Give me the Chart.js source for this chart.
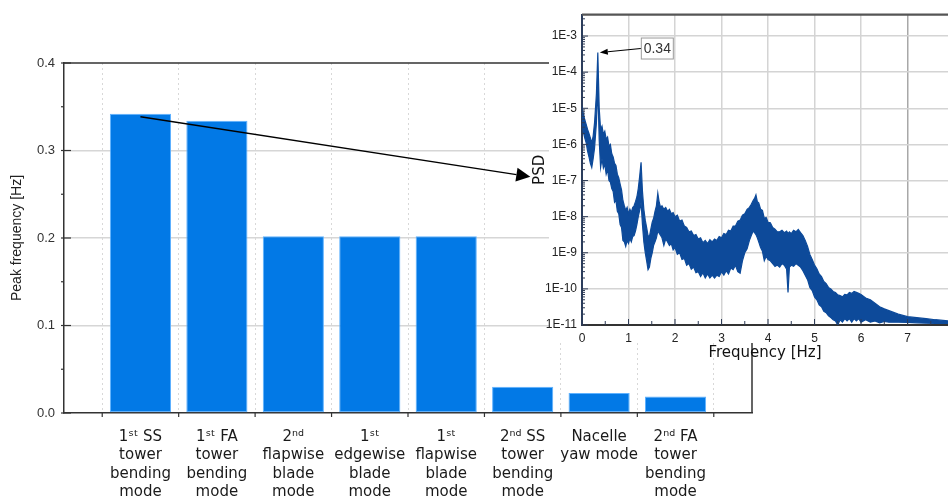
<!DOCTYPE html>
<html>
<head>
<meta charset="utf-8">
<script src="https://cdn.jsdelivr.net/npm/chart.js@4.4.1/dist/chart.umd.min.js"></script>
<style>
  html, body { margin: 0; padding: 0; background: #fff; overflow: hidden; width: 948px; height: 499px; }
  #wrap { position: relative; width: 948px; height: 499px; }
  canvas { position: absolute; left: 0; top: 0; }
</style>
</head>
<body>
<div id="wrap">
  <canvas id="bars" width="948" height="499"></canvas>
  <canvas id="psd" width="948" height="499"></canvas>
</div>
<script>
// ---- Peak frequency of each structural mode ----
const modeLabels = [
  ['1\u02E2\u1D57 SS', 'tower', 'bending', 'mode'],
  ['1\u02E2\u1D57 FA', 'tower', 'bending', 'mode'],
  ['2\u207F\u1D48', 'flapwise', 'blade', 'mode'],
  ['1\u02E2\u1D57', 'edgewise', 'blade', 'mode'],
  ['1\u02E2\u1D57', 'flapwise', 'blade', 'mode'],
  ['2\u207F\u1D48 SS', 'tower', 'bending', 'mode'],
  ['Nacelle', 'yaw mode'],
  ['2\u207F\u1D48 FA', 'tower', 'bending', 'mode']
];
const peakFrequency = [0.342, 0.334, 0.202, 0.202, 0.202, 0.030, 0.023, 0.019];
const peakAxisTicks = [0.0, 0.05, 0.1, 0.15, 0.2, 0.25, 0.3, 0.35, 0.4];

// ---- Power spectral density of the tower response: upper and lower edge of the noisy trace ----
const psdFrequency = [
  0.00, 0.03, 0.06, 0.09, 0.12, 0.15, 0.18, 0.21, 0.24, 0.27,
  0.31, 0.34, 0.37, 0.40, 0.43, 0.46, 0.49, 0.52, 0.55, 0.58,
  0.61, 0.64, 0.67, 0.70, 0.73, 0.76, 0.79, 0.82, 0.85, 0.88,
  0.91, 0.94, 0.97, 1.00, 1.03, 1.06, 1.09, 1.12, 1.15, 1.18,
  1.21, 1.24, 1.27, 1.30, 1.33, 1.36, 1.39, 1.42, 1.45, 1.48,
  1.51, 1.54, 1.57, 1.60, 1.63, 1.66, 1.69, 1.72, 1.76, 1.80,
  1.84, 1.88, 1.92, 1.96, 2.00, 2.05, 2.10, 2.15, 2.20, 2.25,
  2.30, 2.35, 2.40, 2.45, 2.50, 2.55, 2.60, 2.65, 2.70, 2.75,
  2.80, 2.85, 2.90, 2.95, 3.00, 3.05, 3.10, 3.15, 3.20, 3.25,
  3.30, 3.35, 3.40, 3.45, 3.50, 3.55, 3.60, 3.64, 3.68, 3.71,
  3.74, 3.77, 3.80, 3.84, 3.88, 3.92, 3.96, 4.00, 4.05, 4.10,
  4.15, 4.20, 4.25, 4.30, 4.35, 4.40, 4.43, 4.46, 4.50, 4.55,
  4.60, 4.65, 4.70, 4.75, 4.80, 4.85, 4.90, 4.95, 5.00, 5.05,
  5.10, 5.15, 5.20, 5.25, 5.30, 5.35, 5.40, 5.45, 5.50, 5.55,
  5.60, 5.65, 5.70, 5.75, 5.80, 5.85, 5.90, 5.95, 6.00, 6.10,
  6.20, 6.30, 6.40, 6.50, 6.60, 6.80, 7.00, 7.20, 7.40, 7.60,
  7.87
];
const psdUpper = [
  1.1e-5, 7.0e-6, 4.8e-6, 3.6e-6, 2.6e-6, 2.0e-6, 1.5e-6, 1.1e-6, 1.7e-6, 4.0e-6,
  2.5e-5, 3.5e-4, 1.0e-5, 2.6e-6, 3.2e-6, 1.9e-6, 2.3e-6, 1.4e-6, 1.6e-6, 9.0e-7,
  1.0e-6, 5.5e-7, 4.5e-7, 3.0e-7, 2.6e-7, 1.5e-7, 1.2e-7, 8.0e-8, 5.5e-8, 2.8e-8,
  2.0e-8, 1.5e-8, 1.8e-8, 1.2e-8, 1.6e-8, 1.3e-8, 1.8e-8, 2.0e-8, 2.6e-8, 3.5e-8,
  6.0e-8, 1.3e-7, 3.2e-7, 5.0e-8, 1.6e-8, 8.0e-9, 5.0e-9, 3.0e-9, 2.8e-9, 4.5e-9,
  7.0e-9, 9.0e-9, 1.4e-8, 2.0e-8, 4.5e-8, 2.5e-8, 1.8e-8, 2.0e-8, 1.6e-8, 1.8e-8,
  1.4e-8, 1.6e-8, 1.2e-8, 1.3e-8, 1.0e-8, 1.1e-8, 7.5e-9, 8.0e-9, 5.5e-9, 5.0e-9,
  3.8e-9, 4.0e-9, 3.0e-9, 3.2e-9, 2.4e-9, 2.6e-9, 1.9e-9, 2.2e-9, 1.8e-9, 2.3e-9,
  2.0e-9, 2.4e-9, 2.2e-9, 2.8e-9, 2.6e-9, 3.4e-9, 3.2e-9, 4.2e-9, 4.0e-9, 5.5e-9,
  5.5e-9, 7.5e-9, 8.0e-9, 1.1e-8, 1.2e-8, 1.6e-8, 1.8e-8, 2.2e-8, 2.8e-8, 3.2e-8,
  4.0e-8, 2.6e-8, 2.4e-8, 1.6e-8, 1.5e-8, 9.0e-9, 9.5e-9, 7.0e-9, 6.8e-9, 5.0e-9,
  4.5e-9, 3.8e-9, 3.8e-9, 4.2e-9, 3.6e-9, 4.0e-9, 3.4e-9, 3.8e-9, 3.4e-9, 4.2e-9,
  3.8e-9, 4.4e-9, 3.6e-9, 3.0e-9, 2.2e-9, 1.5e-9, 9.0e-10, 6.5e-10, 4.6e-10, 3.6e-10,
  2.6e-10, 2.2e-10, 1.6e-10, 1.4e-10, 1.1e-10, 1.0e-10, 8.5e-11, 8.0e-11, 6.8e-11, 6.5e-11,
  6.0e-11, 7.0e-11, 6.8e-11, 8.0e-11, 7.5e-11, 8.5e-11, 8.0e-11, 7.5e-11, 7.0e-11, 5.6e-11,
  5.0e-11, 4.0e-11, 3.2e-11, 2.8e-11, 2.5e-11, 2.0e-11, 1.7e-11, 1.6e-11, 1.5e-11, 1.4e-11,
  1.3e-11
];
const psdLower = [
  4.0e-6, 2.2e-6, 1.5e-6, 1.1e-6, 6.5e-7, 4.5e-7, 3.0e-7, 2.3e-7, 4.0e-7, 8.0e-7,
  4.0e-6, 4.0e-5, 1.3e-6, 2.3e-7, 4.0e-7, 2.2e-7, 2.8e-7, 1.5e-7, 2.0e-7, 1.0e-7,
  9.0e-8, 6.0e-8, 5.0e-8, 2.5e-8, 2.8e-8, 1.4e-8, 1.2e-8, 6.0e-9, 5.0e-9, 2.2e-9,
  2.0e-9, 1.5e-9, 2.2e-9, 1.8e-9, 2.5e-9, 2.0e-9, 2.8e-9, 3.0e-9, 4.0e-9, 6.0e-9,
  1.0e-8, 1.5e-8, 2.5e-8, 6.0e-9, 2.0e-9, 1.0e-9, 6.0e-10, 3.4e-10, 4.0e-10, 7.0e-10,
  1.0e-9, 1.6e-9, 2.0e-9, 2.6e-9, 4.0e-9, 3.5e-9, 3.0e-9, 2.6e-9, 1.6e-9, 2.4e-9,
  2.0e-9, 1.6e-9, 1.8e-9, 1.2e-9, 1.4e-9, 9.0e-10, 1.0e-9, 6.5e-10, 7.0e-10, 4.5e-10,
  5.0e-10, 3.5e-10, 4.0e-10, 2.8e-10, 3.0e-10, 2.2e-10, 2.8e-10, 2.0e-10, 2.6e-10, 2.0e-10,
  2.4e-10, 2.0e-10, 2.4e-10, 2.2e-10, 3.0e-10, 2.4e-10, 3.2e-10, 2.6e-10, 3.8e-10, 3.4e-10,
  4.5e-10, 3.0e-10, 2.7e-10, 6.0e-10, 1.0e-9, 1.3e-9, 2.2e-9, 3.0e-9, 4.0e-9, 3.6e-9,
  3.2e-9, 2.6e-9, 2.0e-9, 1.4e-9, 1.1e-9, 6.0e-10, 8.0e-10, 6.5e-10, 6.0e-10, 5.0e-10,
  4.2e-10, 4.6e-10, 4.0e-10, 5.0e-10, 4.5e-10, 3.5e-10, 8.0e-11, 4.0e-10, 4.5e-10, 4.2e-10,
  5.0e-10, 4.5e-10, 4.0e-10, 3.2e-10, 2.4e-10, 1.8e-10, 1.1e-10, 9.0e-11, 6.0e-11, 5.0e-11,
  3.6e-11, 3.2e-11, 2.4e-11, 2.2e-11, 1.8e-11, 1.6e-11, 1.4e-11, 1.3e-11, 1.0e-11, 1.4e-11,
  1.2e-11, 1.5e-11, 1.3e-11, 1.5e-11, 1.2e-11, 1.5e-11, 1.3e-11, 1.5e-11, 1.2e-11, 1.4e-11,
  1.2e-11, 1.3e-11, 1.15e-11, 1.25e-11, 1.2e-11, 1.2e-11, 1.18e-11, 1.15e-11, 1.12e-11, 1.1e-11,
  1.1e-11
];
const psdDecadeLabels = ['1E-11', '1E-10', '1E-9', '1E-8', '1E-7', '1E-6', '1E-5', '1E-4', '1E-3'];
const frequencyTickLabels = ['0', '1', '2', '3', '4', '5', '6', '7'];
const peakLabel = '0.34';

const BLUE = '#0279e6';
const PSD_BLUE = '#0d4a9a';

function arrow(ctx, x1, y1, x2, y2, headLen, headHalf, width) {
  const a = Math.atan2(y2 - y1, x2 - x1);
  const bx = x2 - headLen * Math.cos(a), by = y2 - headLen * Math.sin(a);
  ctx.save();
  ctx.strokeStyle = '#000'; ctx.fillStyle = '#000'; ctx.lineWidth = width;
  ctx.beginPath(); ctx.moveTo(x1, y1); ctx.lineTo(bx, by); ctx.stroke();
  ctx.beginPath();
  ctx.moveTo(x2, y2);
  ctx.lineTo(bx + headHalf * Math.sin(a), by - headHalf * Math.cos(a));
  ctx.lineTo(bx - headHalf * Math.sin(a), by + headHalf * Math.cos(a));
  ctx.closePath(); ctx.fill();
  ctx.restore();
}

const isMultiple = (v, step) => Math.abs(v / step - Math.round(v / step)) < 1e-6;

// ---- Bar chart decorations: frame, tick marks and the pointer arrow ----
const barDecor = {
  id: 'barDecor',
  afterDraw(chart) {
    const { ctx, chartArea: a, scales: { x, y } } = chart;
    ctx.save();
    ctx.strokeStyle = '#333'; ctx.lineWidth = 1.5;
    ctx.beginPath();
    ctx.moveTo(a.left, a.top); ctx.lineTo(a.right, a.top); ctx.lineTo(a.right, a.bottom);
    ctx.stroke();
    ctx.lineWidth = 1.2;
    y.ticks.forEach(t => {
      const py = y.getPixelForValue(t.value);
      const major = isMultiple(t.value, 0.1);
      ctx.beginPath();
      ctx.moveTo(a.left - 3, py); ctx.lineTo(a.left + (major ? 7 : 0), py);
      ctx.stroke();
    });
    for (let i = 0; i <= modeLabels.length; i++) {
      const px = x.getPixelForValue(i - 0.5);
      ctx.beginPath(); ctx.moveTo(px, a.bottom); ctx.lineTo(px, a.bottom + 4); ctx.stroke();
    }
    ctx.restore();
    // pointer from the first bar to the spectrum
    const sx = x.getPixelForValue(0), sy = y.getPixelForValue(peakFrequency[0]) + 3;
    const ex = x.getPixelForValue(5.1), ey = y.getPixelForValue(0.27);
    arrow(ctx, sx, sy, ex, ey, 14, 7, 1.4);
  }
};

new Chart(document.getElementById('bars'), {
  type: 'bar',
  data: {
    datasets: [{
      data: peakFrequency.map((v, i) => ({ x: i, y: v })),
      backgroundColor: BLUE,
      borderColor: '#5fb2ff',
      borderWidth: 1,
      borderSkipped: false,
      barPercentage: 0.8,
      categoryPercentage: 1
    }]
  },
  options: {
    responsive: false,
    animation: false,
    layout: { padding: { left: 0, top: 63, right: 196, bottom: 0 } },
    plugins: { legend: { display: false }, tooltip: { enabled: false } },
    scales: {
      x: {
        type: 'linear', min: -1, max: 8, offset: false,
        afterBuildTicks: s => { s.ticks = modeLabels.map((_, i) => ({ value: i })); },
        afterFit: s => { s.height = 86; },
        grid: { offset: true, color: '#d8d8d8', lineWidth: 1, drawTicks: false },
        border: { color: '#333', width: 1.5, dash: [2, 3] },
        ticks: {
          autoSkip: false, maxRotation: 0, minRotation: 0, padding: 15,
          color: '#1a1a1a',
          font: { family: 'DejaVu Sans', size: 15, lineHeight: 1.22 },
          callback: v => modeLabels[Math.round(v)]
        }
      },
      y: {
        min: 0, max: 0.4,
        afterBuildTicks: s => { s.ticks = peakAxisTicks.map(v => ({ value: v })); },
        afterFit: s => { s.width = 64; },
        grid: {
          drawTicks: false, lineWidth: 1.5,
          color: c => (isMultiple(c.tick.value, 0.1) && c.tick.value > 0 && c.tick.value < 0.4) ? '#d6d6d6' : 'rgba(0,0,0,0)'
        },
        border: { color: '#333', width: 1.5 },
        ticks: {
          padding: 9, color: '#333',
          font: { family: 'Liberation Sans', size: 13 },
          callback: v => isMultiple(v, 0.1) ? v.toFixed(1) : ''
        },
        title: {
          display: true, text: 'Peak frequency [Hz]', color: '#222',
          font: { family: 'Liberation Sans', size: 14 },
          padding: { top: 8.6, bottom: 0 }
        }
      }
    }
  },
  plugins: [barDecor]
});

// ---- Inset spectrum decorations ----
const psdDecor = {
  id: 'psdDecor',
  beforeDraw(chart) {
    const { ctx, chartArea: a } = chart;
    ctx.save();
    ctx.fillStyle = '#fff';
    ctx.fillRect(a.left - 33, 0, chart.width, a.bottom + 18);
    ctx.restore();
  },
  afterDraw(chart) {
    const { ctx, chartArea: a, scales: { x, y } } = chart;
    ctx.save();
    ctx.strokeStyle = '#2e3b55'; ctx.lineWidth = 1;
    y.ticks.forEach(t => {
      const py = y.getPixelForValue(t.value);
      const major = isMultiple(Math.log10(t.value), 1);
      ctx.beginPath(); ctx.moveTo(a.left, py); ctx.lineTo(a.left + (major ? 6 : 3), py); ctx.stroke();
    });
    x.ticks.forEach(t => {
      const px = x.getPixelForValue(t.value);
      ctx.beginPath(); ctx.moveTo(px, a.bottom); ctx.lineTo(px, a.bottom - (isMultiple(t.value, 1) ? 6 : 4)); ctx.stroke();
    });
    ctx.strokeStyle = '#555'; ctx.lineWidth = 2.2;
    ctx.beginPath(); ctx.moveTo(a.left, a.top); ctx.lineTo(a.right, a.top); ctx.stroke();
    ctx.restore();

    // peak label
    const i = psdUpper.indexOf(Math.max(...psdUpper));
    const tx = x.getPixelForValue(psdFrequency[i]) + 2, ty = y.getPixelForValue(psdUpper[i]);
    const bx = tx + 41, by = ty - 15, bw = 32, bh = 21;
    ctx.save();
    ctx.fillStyle = '#fff'; ctx.strokeStyle = '#9a9a9a'; ctx.lineWidth = 1;
    ctx.fillRect(bx, by, bw, bh); ctx.strokeRect(bx + 0.5, by + 0.5, bw, bh);
    ctx.fillStyle = '#333'; ctx.font = '14px "Liberation Sans"';
    ctx.textAlign = 'center'; ctx.textBaseline = 'middle';
    ctx.fillText(peakLabel, bx + bw / 2 + 0.5, by + bh / 2 + 1);
    ctx.restore();
    arrow(ctx, bx, by + bh / 2 + 0.5, tx, ty, 8, 3, 1.2);
  }
};

new Chart(document.getElementById('psd'), {
  type: 'line',
  data: {
    datasets: [
      {
        data: psdFrequency.map((f, i) => ({ x: f, y: psdUpper[i] })),
        borderColor: PSD_BLUE, backgroundColor: PSD_BLUE, borderWidth: 1.2,
        pointRadius: 0, fill: '+1', tension: 0
      },
      {
        data: psdFrequency.map((f, i) => ({ x: f, y: psdLower[i] })),
        borderColor: PSD_BLUE, borderWidth: 1.2, pointRadius: 0, fill: false, tension: 0
      }
    ]
  },
  options: {
    responsive: false,
    animation: false,
    layout: { padding: { left: 530, top: 14.7, right: 0, bottom: 134 } },
    plugins: { legend: { display: false }, tooltip: { enabled: false } },
    scales: {
      x: {
        type: 'linear', min: 0, max: 7.87,
        afterBuildTicks: s => {
          const t = [];
          for (let k = 0; k <= 15; k++) t.push({ value: k / 2 });
          s.ticks = t;
        },
        afterFit: s => { s.height = 40; },
        grid: {
          drawTicks: false, lineWidth: 1.5,
          color: c => isMultiple(c.tick.value, 1) && c.tick.value > 0 ? (c.tick.value === 7 ? '#a8a8a8' : '#d4d4d4') : 'rgba(0,0,0,0)'
        },
        border: { color: '#333', width: 2 },
        ticks: {
          autoSkip: false, maxRotation: 0, padding: 6, color: '#222',
          font: { family: 'Liberation Sans', size: 12 },
          callback: v => isMultiple(v, 1) ? frequencyTickLabels[Math.round(v)] : ''
        },
        title: {
          display: true, text: 'Frequency [Hz]', color: '#111',
          font: { family: 'DejaVu Sans', size: 15 },
          padding: { top: 0, bottom: 3 }
        }
      },
      y: {
        type: 'logarithmic', min: 1e-11, max: 3.9e-3,
        afterBuildTicks: s => {
          const t = [];
          for (let e = -11; e <= -3; e++) {
            for (let k = 1; k <= 9; k++) {
              const v = Number(k + 'e' + e);
              if (v >= s.min && v <= s.max) t.push({ value: v });
            }
          }
          s.ticks = t;
        },
        afterFit: s => { s.width = 52; },
        grid: {
          drawTicks: false, lineWidth: 1.5,
          color: c => {
            const l = Math.log10(c.tick.value);
            return isMultiple(l, 1) && l > -11 ? '#d4d4d4' : 'rgba(0,0,0,0)';
          }
        },
        border: { color: '#2b3d5c', width: 2 },
        ticks: {
          autoSkip: false, padding: 5, color: '#222',
          font: { family: 'Liberation Sans', size: 12 },
          callback: v => {
            const l = Math.log10(v);
            return isMultiple(l, 1) ? psdDecadeLabels[Math.round(l) + 11] : '';
          }
        },
        title: {
          display: true, text: 'PSD', color: '#111',
          font: { family: 'DejaVu Sans', size: 15 },
          padding: { top: 1, bottom: 0 }
        }
      }
    }
  },
  plugins: [psdDecor]
});
</script>
</body>
</html>
